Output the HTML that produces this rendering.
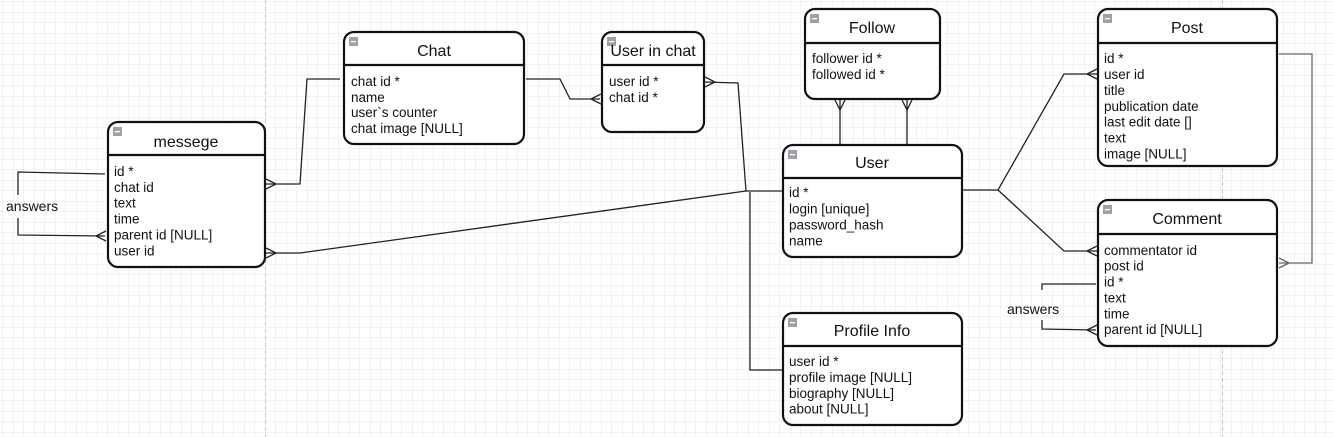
<html><head><style>body{margin:0;width:1334px;height:437px;overflow:hidden;background:#fff}
svg{font-family:"Liberation Sans",Arial,sans-serif}</style></head><body>
<svg width="1334" height="437" xmlns="http://www.w3.org/2000/svg">
<defs><pattern id="g" width="10.5" height="10.5" patternUnits="userSpaceOnUse" x="3" y="2"><path d="M10.5 0V10.5H0" fill="none" stroke="#e4e4e4" stroke-width="1"/></pattern>
<g id="ic"><rect width="9" height="9" fill="#a0a0a8"/><rect x="2" y="4" width="5" height="1.3" fill="#fff"/></g></defs>
<rect width="1334" height="437" fill="url(#g)"/>
<line x1="265.5" y1="0" x2="265.5" y2="437" stroke="#c8c8c8" stroke-dasharray="4,3"/>
<line x1="1222.5" y1="0" x2="1222.5" y2="437" stroke="#c8c8c8" stroke-dasharray="4,3"/>
<g fill="none" stroke="#222" stroke-width="1.3">
<polyline points="340,79 307,79 300,184 266,184"/><path d="M266,179 L276,184 L266,189"/>
<polyline points="526,79 560,79 570,99 600,99"/><path d="M601,94 L591,99 L601,104"/>
<polyline points="704,82 738,83 746,191 782,191"/><path d="M705,77 L715,82 L705,87"/>
<polyline points="266,253 300,253 746,191"/><path d="M266,248 L276,253 L266,258"/>
<polyline points="750,192 750,370 783,370"/>
<line x1="840" y1="99" x2="840" y2="145"/><path d="M835,100 L840,110 L845,100"/>
<line x1="907" y1="99" x2="907" y2="145"/><path d="M902,100 L907,110 L912,100"/>
<polyline points="962,190 998,190 1064,74 1097,74"/><path d="M1097,69 L1087,74 L1097,79"/>
<polyline points="998,190 1064,251 1097,251"/><path d="M1097,246 L1087,251 L1097,256"/>
<polyline points="1279,54 1312,54 1312,263 1279,263" stroke="#666"/><path d="M1279,258 L1289,263 L1279,268" stroke="#666"/>
<polyline points="105,174 18,172 18,195"/><polyline points="18,218 18,235 105,236"/><path d="M106,231 L96,236 L106,241"/>
<polyline points="1096,284 1042,284 1042,290"/><polyline points="1042,320 1042,329 1096,330"/><path d="M1097,325 L1087,330 L1097,335"/>
</g>
<g font-size="14" fill="#111">
<text x="6" y="211">answers</text><text x="1007" y="314">answers</text>
</g>
<g stroke="#111" stroke-width="2.2" fill="#fff">
<rect x="108" y="122" width="157" height="145" rx="10"/><line x1="108" y1="155" x2="265" y2="155"/>
<rect x="344" y="32" width="180" height="112" rx="10"/><line x1="344" y1="65" x2="524" y2="65"/>
<rect x="602" y="32" width="102" height="100" rx="10"/><line x1="602" y1="65" x2="704" y2="65"/>
<rect x="805" y="9" width="135" height="90" rx="10"/><line x1="805" y1="43" x2="940" y2="43"/>
<rect x="783" y="145" width="179" height="112" rx="10"/><line x1="783" y1="178" x2="962" y2="178"/>
<rect x="1098" y="9" width="179" height="157" rx="10"/><line x1="1098" y1="43" x2="1277" y2="43"/>
<rect x="1098" y="200" width="179" height="146" rx="10"/><line x1="1098" y1="234" x2="1277" y2="234"/>
<rect x="783" y="313" width="179" height="112" rx="10"/><line x1="783" y1="346" x2="962" y2="346"/>
</g>
<use href="#ic" x="113" y="127"/><use href="#ic" x="349" y="37"/><use href="#ic" x="607" y="37"/><use href="#ic" x="810" y="14"/><use href="#ic" x="788" y="150"/><use href="#ic" x="1103" y="14"/><use href="#ic" x="1103" y="205"/><use href="#ic" x="788" y="318"/>
<g font-size="16" fill="#111" text-anchor="middle">
<text x="186" y="147">messege</text><text x="434" y="56">Chat</text><text x="653" y="56">User in chat</text><text x="872" y="33">Follow</text><text x="872" y="168">User</text><text x="1187" y="33">Post</text><text x="1187" y="224">Comment</text><text x="872" y="336">Profile Info</text>
</g>
<g font-size="13.5" fill="#111">
<text x="114" y="176">id *<tspan x="114" dy="16">chat id</tspan><tspan x="114" dy="15.5">text</tspan><tspan x="114" dy="16">time</tspan><tspan x="114" dy="16">parent id [NULL]</tspan><tspan x="114" dy="16">user id</tspan></text>
<text x="351" y="86">chat id *<tspan x="351" dy="16">name</tspan><tspan x="351" dy="15">user`s counter</tspan><tspan x="351" dy="16">chat image [NULL]</tspan></text>
<text x="609" y="86">user id *<tspan x="609" dy="16">chat id *</tspan></text>
<text x="812" y="63">follower id *<tspan x="812" dy="16">followed id *</tspan></text>
<text x="789" y="197">id *<tspan x="789" dy="16.5">login [unique]</tspan><tspan x="789" dy="16">password_hash</tspan><tspan x="789" dy="16">name</tspan></text>
<text x="1104" y="63">id *<tspan x="1104" dy="16">user id</tspan><tspan x="1104" dy="16">title</tspan><tspan x="1104" dy="16">publication date</tspan><tspan x="1104" dy="15.5">last edit date []</tspan><tspan x="1104" dy="16">text</tspan><tspan x="1104" dy="16">image [NULL]</tspan></text>
<text x="1104" y="255">commentator id<tspan x="1104" dy="15.5">post id</tspan><tspan x="1104" dy="16">id *</tspan><tspan x="1104" dy="16">text</tspan><tspan x="1104" dy="16">time</tspan><tspan x="1104" dy="15.5">parent id [NULL]</tspan></text>
<text x="789" y="366">user id *<tspan x="789" dy="16">profile image [NULL]</tspan><tspan x="789" dy="16">biography [NULL]</tspan><tspan x="789" dy="15.5">about [NULL]</tspan></text>
</g>
</svg></body></html>
